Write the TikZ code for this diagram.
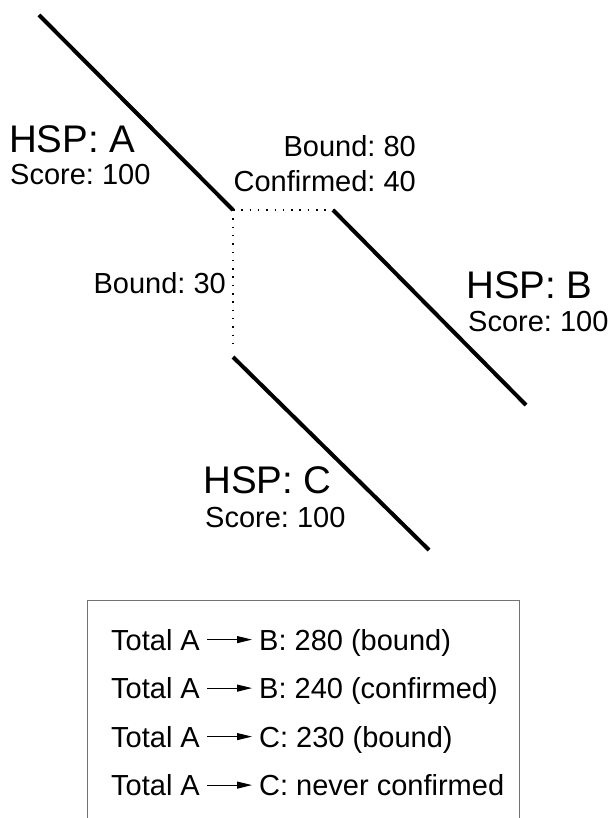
\documentclass[tikz,border=0pt]{standalone}
\usepackage{fontspec}
\setmainfont{Liberation Sans}
\usetikzlibrary{arrows.meta}
\frenchspacing
\begin{document}
\begin{tikzpicture}[x=1pt,y=-1pt,
  hsp/.style={line width=4pt},
  gapline/.style={line width=1.5pt, dash pattern=on 1.5pt off 6.8pt},
  big/.style={inner sep=0pt, font=\fontsize{38.5}{44}\selectfont},
  small/.style={inner sep=0pt, font=\fontsize{29}{34}\selectfont},
  rowtext/.style={small, text height=20.8pt, text depth=0pt},
  arr/.style={line width=1pt, -{Triangle[length=15pt,width=7pt]},
    shorten <=7pt, shorten >=7pt},
  frame/.style={draw=black!55, line width=1pt}]
\useasboundingbox (0,0) rectangle (611,818);

% HSP segments
\coordinate (a1) at (39,15);
\coordinate (a2) at (233,210);
\coordinate (b1) at (333,210);
\coordinate (b2) at (526,405);
\coordinate (c1) at (233,357);
\coordinate (c2) at (429,550);
\coordinate (cgap) at (233,350);
\draw[hsp] (a1) -- (a2);
\draw[hsp] (b1) -- (b2);
\draw[hsp] (c1) -- (c2);

% gaps between segments
\draw[gapline] (a2) -- (b1);
\draw[gapline] (a2) -- (cgap);

% segment labels
\node[big, anchor=base west] (hspA) at (9,153) {HSP: A};
\node[small, anchor=base west] (scA) at (10,185) {Score: 100};
\node[big, anchor=base west] (hspB) at (466,298) {HSP: B};
\node[small, anchor=base west] (scB) at (468,331.7) {Score: 100};
\node[big, anchor=base west] (hspC) at (203,493) {HSP: C};
\node[small, anchor=base west] (scC) at (205,527) {Score: 100};

% gap labels
\node[small, anchor=base east] (bAB) at (416,156.7) {Bound: 80};
\node[small, anchor=base east] (cAB) at (416,191.7) {Confirmed: 40};
\node[small, anchor=base east] (bAC) at (226,293) {Bound: 30};

% summary box (open at the bottom edge)
\draw[frame] (87.5,830) -- (87.5,600.7) -- (519,600.7) -- (519,830);

\foreach \i/\y/\rest in {1/650/{B: 280 (bound)},
                         2/698.5/{B: 240 (confirmed)},
                         3/747/{C: 230 (bound)},
                         4/795.5/{C: never confirmed}} {
  \node[rowtext, anchor=base west] (tot\i) at (111,\y) {Total A};
  \node[rowtext, anchor=base west] (res\i) at (259,\y) {\rest};
  \draw[arr] (tot\i.east) -- (res\i.west);
}
\end{tikzpicture}
\end{document}
